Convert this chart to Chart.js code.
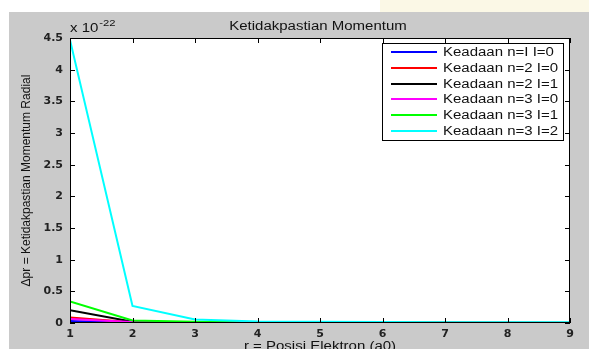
<!DOCTYPE html>
<html>
<head>
<meta charset="utf-8">
<script src="https://cdn.jsdelivr.net/npm/chart.js@4.4.1/dist/chart.umd.min.js"></script>
<style>
html,body{margin:0;padding:0;background:#fff;}
canvas{display:block;}
</style>
</head>
<body>
<canvas id="c" width="589" height="349"></canvas>
<script>
// r = electron position (a0)
const positions = [1, 2, 3, 4, 5, 6, 7, 8, 9];
// values in units of 1e-22
const n1l0 = [0.03, 0.006, 0.003, 0.002, 0.001, 0.001, 0.001, 0.001, 0.001];
const n2l0 = [0.085, 0.012, 0.006, 0.004, 0.003, 0.002, 0.002, 0.001, 0.001];
const n2l1 = [0.20, 0.02, 0.008, 0.005, 0.003, 0.002, 0.002, 0.002, 0.001];
const n3l0 = [0.065, 0.015, 0.008, 0.005, 0.004, 0.003, 0.002, 0.002, 0.002];
const n3l1 = [0.34, 0.04, 0.02, 0.012, 0.008, 0.006, 0.005, 0.004, 0.003];
const n3l2 = [4.47, 0.27, 0.055, 0.025, 0.018, 0.014, 0.012, 0.011, 0.01];
const seriesLabels = ['Keadaan n=I I=0', 'Keadaan n=2 I=0', 'Keadaan n=2 I=1', 'Keadaan n=3 I=0', 'Keadaan n=3 I=1', 'Keadaan n=3 I=2'];
const seriesColors = ['#0000ff', '#ff0000', '#000000', '#ff00ff', '#00ff00', '#00ffff'];
const yTicks = [0, 0.5, 1, 1.5, 2, 2.5, 3, 3.5, 4, 4.5];
const xTicks = [1, 2, 3, 4, 5, 6, 7, 8, 9];
const titleText = 'Ketidakpastian Momentum';
const xTitle = 'r = Posisi Elektron (a0)';
const yTitle = '\u0394pr = Ketidakpastian Momentum Radial';

const allSeries = [n1l0, n2l0, n2l1, n3l0, n3l1, n3l2];
const datasets = allSeries.map((s, i) => ({
  label: seriesLabels[i],
  data: s.map((v, j) => ({x: positions[j], y: v})),
  borderColor: seriesColors[i],
  backgroundColor: seriesColors[i],
  borderWidth: 2,
  pointRadius: 0,
  tension: 0,
  fill: false,
  order: allSeries.length - i
}));

const SX = 1.25; // horizontal stretch of reference text
function stretchedText(ctx, txt, x, y, align, font) {
  ctx.save();
  ctx.font = font;
  const w = ctx.measureText(txt).width * SX;
  let x0 = x;
  if (align === 'center') x0 = x - w / 2;
  else if (align === 'right') x0 = x - w;
  ctx.translate(x0, y);
  ctx.scale(SX, 1);
  ctx.textAlign = 'left';
  ctx.fillText(txt, 0, 0);
  ctx.restore();
  return w;
}

const matlabPlugin = {
  id: 'matlab',
  beforeDraw(chart) {
    const ctx = chart.ctx, a = chart.chartArea;
    ctx.save();
    ctx.fillStyle = '#ffffff';
    ctx.fillRect(0, 0, chart.width, chart.height);
    ctx.fillStyle = '#fbf8e6';
    ctx.fillRect(380, 0, chart.width - 380, 12);
    ctx.fillStyle = '#cacaca';
    ctx.fillRect(9, 12, chart.width - 9, chart.height - 12);
    ctx.fillStyle = '#ffffff';
    ctx.fillRect(a.left, a.top, a.right - a.left, a.bottom - a.top);
    ctx.restore();
  },
  afterDatasetsDraw(chart) {
    const ctx = chart.ctx, a = chart.chartArea;
    const xs = chart.scales.x, ys = chart.scales.y;
    ctx.save();
    // box
    ctx.strokeStyle = '#000';
    ctx.lineWidth = 1;
    ctx.strokeRect(a.left + 0.5, a.top + 0.5, a.right - a.left - 1, a.bottom - a.top - 1);
    // inward ticks
    ctx.beginPath();
    xTicks.forEach(v => {
      const px = Math.round(xs.getPixelForValue(v)) + 0.5;
      ctx.moveTo(px, a.bottom); ctx.lineTo(px, a.bottom - 5);
      ctx.moveTo(px, a.top); ctx.lineTo(px, a.top + 5);
    });
    yTicks.forEach(v => {
      const py = Math.round(ys.getPixelForValue(v)) + 0.5;
      ctx.moveTo(a.left, py); ctx.lineTo(a.left + 5, py);
      ctx.moveTo(a.right, py); ctx.lineTo(a.right - 5, py);
    });
    ctx.stroke();

    // legend
    const lx = 382, ly = 43, lw = 181, lh = 97;
    ctx.fillStyle = '#fff';
    ctx.fillRect(lx, ly, lw, lh);
    ctx.strokeStyle = '#000';
    ctx.strokeRect(lx + 0.5, ly + 0.5, lw, lh);
    const rows = [52, 68, 84, 99, 115, 131];
    chart.data.datasets.forEach((d, i) => {
      ctx.strokeStyle = d.borderColor;
      ctx.lineWidth = 2;
      ctx.beginPath();
      ctx.moveTo(391, rows[i]); ctx.lineTo(437, rows[i]);
      ctx.stroke();
      ctx.fillStyle = '#111';
      ctx.textBaseline = 'middle';
      stretchedText(ctx, d.label, 443, rows[i] + 1, 'left', '12px "Liberation Sans", Arial, sans-serif');
    });

    // title and labels
    ctx.fillStyle = '#111';
    ctx.textBaseline = 'alphabetic';
    stretchedText(ctx, titleText, 318, 30, 'center', '12px "Liberation Sans", Arial, sans-serif');
    const w1 = stretchedText(ctx, 'x 10', 70, 32, 'left', '12px "Liberation Sans", Arial, sans-serif');
    stretchedText(ctx, '-22', 70 + w1 + 1, 26, 'left', '9px "Liberation Sans", Arial, sans-serif');
    ctx.textBaseline = 'top';
    stretchedText(ctx, xTitle, 320, 341, 'center', '12px "Liberation Sans", Arial, sans-serif');
    ctx.save();
    ctx.translate(27, (a.top + a.bottom) / 2);
    ctx.rotate(-Math.PI / 2);
    ctx.font = '12px "Liberation Sans", Arial, sans-serif';
    ctx.textAlign = 'center';
    ctx.textBaseline = 'middle';
    ctx.fillText(yTitle, 0, 0);
    ctx.restore();
    ctx.restore();
  }
};

new Chart(document.getElementById('c'), {
  type: 'line',
  data: { datasets },
  options: {
    responsive: false,
    animation: false,
    devicePixelRatio: 1,
    layout: { padding: { top: 38, right: 19, left: 0, bottom: 0 } },
    plugins: { legend: { display: false }, tooltip: { enabled: false }, title: { display: false } },
    scales: {
      x: {
        type: 'linear', min: 1, max: 9,
        afterFit(s) { s.height = 26; },
        afterBuildTicks(s) { s.ticks = xTicks.map(v => ({value: v})); },
        grid: { display: false, drawTicks: false },
        border: { display: false },
        ticks: { padding: 5, color: '#222', font: { family: 'DejaVu Sans', size: 11, weight: 'bold' }, maxRotation: 0 }
      },
      y: {
        type: 'linear', min: 0, max: 4.5,
        afterFit(s) { s.width = 70; },
        afterBuildTicks(s) { s.ticks = yTicks.map(v => ({value: v})); },
        grid: { display: false, drawTicks: false },
        border: { display: false },
        ticks: { padding: 7, color: '#222', font: { family: 'DejaVu Sans', size: 11, weight: 'bold' }, callback: v => String(v) }
      }
    }
  },
  plugins: [matlabPlugin]
});
</script>
</body>
</html>
